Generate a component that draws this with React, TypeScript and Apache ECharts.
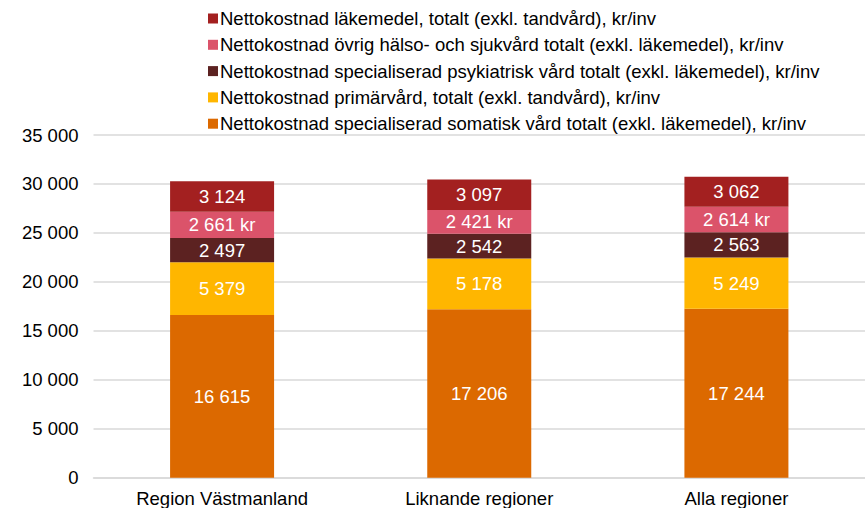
import React, { useEffect, useRef } from "react";
import * as echarts from "echarts";

const categories = ["Region Västmanland", "Liknande regioner", "Alla regioner"];
const seriesNames = [
  "Nettokostnad specialiserad somatisk vård totalt (exkl. läkemedel), kr/inv",
  "Nettokostnad primärvård, totalt (exkl. tandvård), kr/inv",
  "Nettokostnad specialiserad psykiatrisk vård totalt (exkl. läkemedel), kr/inv",
  "Nettokostnad övrig hälso- och sjukvård totalt (exkl. läkemedel), kr/inv",
  "Nettokostnad läkemedel, totalt (exkl. tandvård), kr/inv",
];
const somatisk = [16615, 17206, 17244];
const primarvard = [5379, 5178, 5249];
const psykiatri = [2497, 2542, 2563];
const ovrig = [2661, 2421, 2614];
const lakemedel = [3124, 3097, 3062];
const seriesValues = [somatisk, primarvard, psykiatri, ovrig, lakemedel];
const seriesColors = ["#DC6900", "#FFB600", "#5C2221", "#DB536A", "#A32020"];
const labelSuffix = ["", "", "", " kr", ""];

const fmt = (v: number) => String(Math.round(v)).replace(/\B(?=(\d{3})+(?!\d))/g, " ");

export default function App() {
  const ref = useRef<HTMLDivElement>(null);
  useEffect(() => {
    const chart = echarts.init(ref.current!, null, { renderer: "svg" });
    const font = "'Liberation Sans', Arial, sans-serif";
    const fs = 18.5;
    chart.setOption({
      animation: false,
      textStyle: { fontFamily: font },
      legend: {
        orient: "vertical",
        left: 203,
        top: 4,
        itemWidth: 10,
        itemHeight: 10,
        itemGap: 7.3,
        icon: "rect",
        data: [...seriesNames].reverse(),
        textStyle: { fontSize: fs, color: "#000", fontFamily: font, lineHeight: fs, padding: [0, 0, 0, -3] },
      },
      grid: { left: 93.5, width: 783, top: 135, bottom: 30.3, containLabel: false },
      xAxis: {
        type: "category",
        data: categories,
        axisLine: { show: true, lineStyle: { color: "#D9D9D9", width: 1.5 } },
        axisTick: { show: false },
        axisLabel: { fontSize: fs, color: "#000", margin: 11, fontFamily: font },
      },
      yAxis: {
        type: "value",
        min: 0,
        max: 35000,
        interval: 5000,
        axisLine: { show: false },
        axisTick: { show: false },
        splitLine: { lineStyle: { color: "#D9D9D9", width: 1.5 } },
        axisLabel: { fontSize: fs, color: "#000", margin: 15, fontFamily: font, formatter: (v: number) => fmt(v) },
      },
      series: seriesNames.map((name, i) => ({
        name,
        type: "bar",
        stack: "total",
        barWidth: 104,
        data: seriesValues[i],
        itemStyle: { color: seriesColors[i] },
        label: {
          show: true,
          position: "inside",
          color: "#fff",
          fontSize: fs,
          fontFamily: font,
          formatter: (p: any) => fmt(p.value) + labelSuffix[i],
        },
      })),
    });
    return () => chart.dispose();
  }, []);
  return <div ref={ref} style={{ width: 865, height: 508, position: "absolute", left: 0, top: 0 }} />;
}
